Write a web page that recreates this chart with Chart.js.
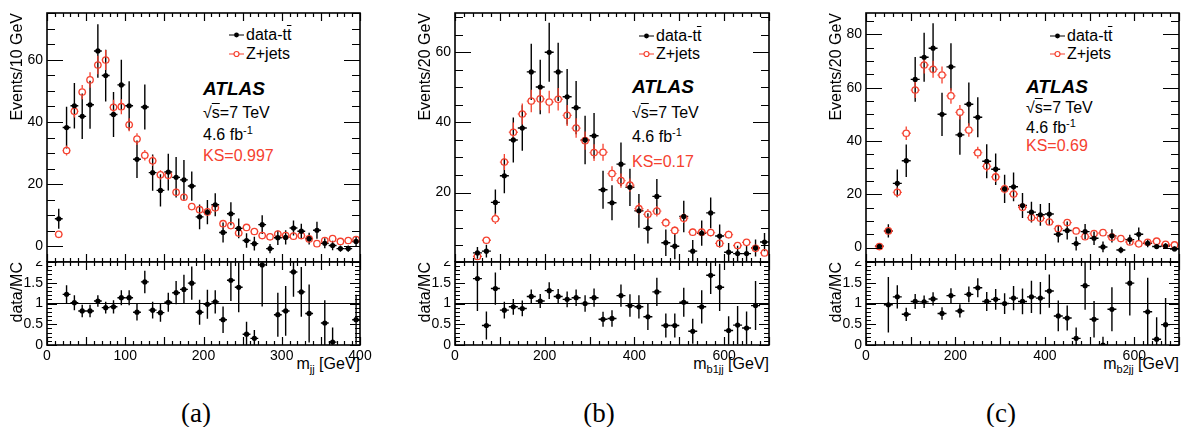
<!DOCTYPE html>
<html>
<head>
<meta charset="utf-8">
<script src="https://cdn.jsdelivr.net/npm/chart.js@4.4.0/dist/chart.umd.min.js"></script>
<style>
body { margin: 0; background: #fff; width: 1188px; height: 427px; position: relative; overflow: hidden;
       font-family: "Liberation Sans", Arial, Helvetica, sans-serif; }
canvas { position: absolute; }
.t { position: absolute; font-size: 16px; line-height: 18px; white-space: nowrap; color: #000; }
.atlas { font-size: 19px; font-weight: bold; font-style: italic; }
.ks { color: #f5412f; }
.ov { text-decoration: overline; }
.leg { display: flex; align-items: center; }
.leg svg { margin-right: 2px; }
.xt { text-align: right; }
.xt sub { font-size: 11px; vertical-align: -4px; line-height: 0; }
.cap { position: absolute; font-family: "Liberation Serif", "Times New Roman", serif; font-size: 27px;
       line-height: 30px; width: 60px; margin-left: -30px; text-align: center; }
</style>
</head>
<body>

<!-- legends and labels, panel (a) -->
<div class="t leg" style="left:229px;top:26px"><svg width="15" height="10"><line x1="0" y1="5" x2="15" y2="5" stroke="#000"/><circle cx="7.5" cy="5" r="2.4" fill="#000"/></svg>data-t<span class="ov">t</span></div>
<div class="t leg" style="left:229px;top:45px"><svg width="15" height="10"><line x1="0" y1="5" x2="5" y2="5" stroke="#f5412f"/><line x1="10" y1="5" x2="15" y2="5" stroke="#f5412f"/><circle cx="7.5" cy="5" r="2.5" fill="none" stroke="#f5412f" stroke-width="1.2"/></svg>Z+jets</div>
<div class="t atlas" style="left:203px;top:80px">ATLAS</div>
<div class="t" style="left:203px;top:104px">√<span class="ov">s</span>=7 TeV</div>
<div class="t" style="left:203px;top:126px">4.6 fb<sup style="font-size:11px;line-height:0">-1</sup></div>
<div class="t ks" style="left:203px;top:147px">KS=0.997</div>
<div class="t xt" style="right:828px;top:355px">m<sub>jj</sub> [GeV]</div>
<div class="cap" style="left:196px;top:398px">(a)</div>

<!-- panel (b) -->
<div class="t leg" style="left:639px;top:27px"><svg width="15" height="10"><line x1="0" y1="5" x2="15" y2="5" stroke="#000"/><circle cx="7.5" cy="5" r="2.4" fill="#000"/></svg>data-t<span class="ov">t</span></div>
<div class="t leg" style="left:639px;top:45px"><svg width="15" height="10"><line x1="0" y1="5" x2="5" y2="5" stroke="#f5412f"/><line x1="10" y1="5" x2="15" y2="5" stroke="#f5412f"/><circle cx="7.5" cy="5" r="2.5" fill="none" stroke="#f5412f" stroke-width="1.2"/></svg>Z+jets</div>
<div class="t atlas" style="left:632px;top:78px">ATLAS</div>
<div class="t" style="left:632px;top:104px">√<span class="ov">s</span>=7 TeV</div>
<div class="t" style="left:632px;top:128px">4.6 fb<sup style="font-size:11px;line-height:0">-1</sup></div>
<div class="t ks" style="left:632px;top:153px">KS=0.17</div>
<div class="t xt" style="right:419px;top:355px">m<sub>b1jj</sub> [GeV]</div>
<div class="cap" style="left:599px;top:398px">(b)</div>

<!-- panel (c) -->
<div class="t leg" style="left:1050px;top:27px"><svg width="15" height="10"><line x1="0" y1="5" x2="15" y2="5" stroke="#000"/><circle cx="7.5" cy="5" r="2.4" fill="#000"/></svg>data-t<span class="ov">t</span></div>
<div class="t leg" style="left:1050px;top:45px"><svg width="15" height="10"><line x1="0" y1="5" x2="5" y2="5" stroke="#f5412f"/><line x1="10" y1="5" x2="15" y2="5" stroke="#f5412f"/><circle cx="7.5" cy="5" r="2.5" fill="none" stroke="#f5412f" stroke-width="1.2"/></svg>Z+jets</div>
<div class="t atlas" style="left:1026px;top:78px">ATLAS</div>
<div class="t" style="left:1026px;top:99px">√<span class="ov">s</span>=7 TeV</div>
<div class="t" style="left:1026px;top:119px">4.6 fb<sup style="font-size:11px;line-height:0">-1</sup></div>
<div class="t ks" style="left:1026px;top:137px">KS=0.69</div>
<div class="t xt" style="right:9px;top:355px">m<sub>b2jj</sub> [GeV]</div>
<div class="cap" style="left:1001px;top:398px">(c)</div>

<script>
const RED = '#f5412f';
const FONT = '"Liberation Sans", Arial, Helvetica, sans-serif';

// (a) m_jj, 10 GeV bins
const aBins = [15, 25, 35, 45, 55, 65, 75, 85, 95, 105, 115, 125, 135, 145, 155, 165, 175, 185, 195, 205,
               215, 225, 235, 245, 255, 265, 275, 285, 295, 305, 315, 325, 335, 345, 355, 365, 375, 385, 395];
const aData = [8.9, 38.2, 45.2, 41.8, 45.5, 62.8, 54.9, 42.4, 51.9, 45.2, 28.0, 44.8, 23.7, 18.0, 23.9, 22.2, 21.4, 19.4, 9.5, 11.0,
               13.4, 4.5, 10.5, 5.8, 1.9, 0.9, 7.0, -0.7, 2.8, 2.9, 5.9, 4.9, 2.5, 5.2, 1.0, 0.3, -0.7, -0.7, 1.6];
const aErr = [3.2, 6.7, 7.3, 7.3, 7.7, 8.6, 8.3, 7.2, 8.1, 7.9, 6.0, 7.2, 5.8, 5.2, 5.9, 6.5, 6.4, 4.7, 4.0, 3.9,
              3.7, 3.2, 3.7, 3.2, 2.3, 2.2, 3.0, 1.5, 2.3, 2.3, 2.4, 2.4, 1.9, 2.7, 1.6, 1.5, 1.0, 1.0, 1.6];
const aMC = [3.9, 30.8, 43.4, 49.6, 53.5, 58.3, 59.9, 44.7, 44.9, 39.1, 34.5, 29.3, 27.5, 23.0, 22.9, 17.4, 15.8, 12.8, 11.8, 11.1,
             12.4, 7.3, 6.7, 4.3, 6.1, 4.8, 3.5, 3.1, 4.0, 3.5, 3.3, 3.5, 2.4, 0.9, 1.9, 2.5, 1.6, 1.9, 2.2];
const aMCErr = [0.8, 1.6, 2.0, 2.3, 2.5, 3.0, 3.2, 2.4, 2.4, 2.1, 1.9, 1.7, 1.6, 1.5, 1.4, 1.2, 1.1, 1.0, 1.0, 1.0,
                1.0, 0.8, 0.8, 0.6, 0.7, 0.6, 0.5, 0.5, 0.6, 0.5, 0.5, 0.5, 0.4, 0.3, 0.4, 0.4, 0.3, 0.4, 0.4];
const aRatio = [null, 1.22, 1.02, 0.82, 0.82, 1.06, 0.90, 0.92, 1.14, 1.14, 0.79, 1.52, 0.84, 0.78, 1.03, 1.26, 1.34, 1.49, 0.79, 0.98,
                1.04, 0.61, 1.56, 1.39, 0.26, 0.16, 1.93, null, 0.73, 0.82, 1.76, 1.28, 0.76, null, 0.53, 0.07, null, null, 0.61];
const aRatioErr = [0, 0.22, 0.18, 0.15, 0.15, 0.14, 0.14, 0.16, 0.18, 0.18, 0.2, 0.27, 0.2, 0.22, 0.23, 0.28, 0.35, 0.4, 0.3, 0.35,
                   0.28, 0.32, 0.5, 0.6, 0.3, 0.2, 1.0, 0, 0.53, 0.6, 0.6, 0.6, 0.7, 0, 0.55, 0.35, 0, 0, 0.6];

// (b) m_b1jj, 20 GeV bins
const bBins = [50, 70, 90, 110, 130, 150, 170, 190, 210, 230, 250, 270, 290, 310, 330, 350, 370, 390, 410, 430,
               450, 470, 490, 510, 530, 550, 570, 590, 610, 630, 650, 670, 690];
const bData = [2.8, 3.3, 17.2, 24.8, 35.0, 38.4, 54.4, 50.1, 60.0, 54.4, 47.3, 44.2, 35.0, 36.2, 20.8, 17.1, 28.1, 21.5, 14.8, 9.8,
               18.9, 5.7, 4.7, 13.2, 3.3, 8.4, 14.2, 7.6, 3.0, 2.6, 2.6, 4.2, 5.9];
const bErr = [1.7, 1.8, 3.7, 5.0, 6.4, 6.5, 8.0, 7.8, 8.4, 8.3, 7.9, 7.6, 6.9, 6.5, 5.4, 5.0, 6.2, 5.3, 4.8, 4.3,
              5.0, 3.8, 3.7, 4.5, 3.2, 3.6, 4.4, 3.3, 2.6, 2.2, 2.2, 2.4, 2.6];
const bMC = [1.8, 6.4, 12.5, 28.7, 37.2, 42.4, 46.1, 46.7, 45.8, 46.6, 42.0, 38.4, 34.8, 31.4, 31.5, 25.4, 23.4, 22.1, 15.4, 13.8,
             14.7, 11.4, 9.2, 12.7, 8.7, 8.7, 8.6, 5.5, 8.0, 4.9, 5.8, 4.1, 2.8];
const bMCErr = [0.6, 1.0, 1.5, 2.3, 2.8, 3.0, 3.2, 3.2, 3.2, 3.2, 3.0, 2.8, 2.6, 2.4, 2.4, 2.1, 2.0, 1.9, 1.6, 1.5,
                1.5, 1.3, 1.2, 1.4, 1.1, 1.1, 1.1, 0.9, 1.1, 0.8, 0.9, 0.8, 0.6];
const bRatio = [1.6, 0.47, 1.36, 0.84, 0.92, 0.88, 1.17, 1.06, 1.31, 1.17, 1.1, 1.14, 1.0, 1.14, 0.62, 0.64, 1.19, 0.95, 0.92, 0.68,
                1.28, 0.47, 0.47, 1.03, 0.33, 0.92, 1.68, 1.39, 0.35, 0.48, 0.41, 0.95, null];
const bRatioErr = [0.78, 0.34, 0.39, 0.2, 0.19, 0.19, 0.17, 0.17, 0.2, 0.18, 0.19, 0.2, 0.2, 0.22, 0.18, 0.2, 0.27, 0.27, 0.28, 0.32,
                   0.34, 0.29, 0.29, 0.35, 0.3, 0.4, 0.45, 0.57, 0.34, 0.46, 0.4, 0.59, 0];

// (c) m_b2jj, 20 GeV bins
const cBins = [30, 50, 70, 90, 110, 130, 150, 170, 190, 210, 230, 250, 270, 290, 310, 330, 350, 370, 390, 410,
               430, 450, 470, 490, 510, 530, 550, 570, 590, 610, 630, 650, 670, 690];
const cData = [0.5, 6.25, 24.1, 32.6, 63.1, 71.4, 74.8, 50.0, 67.8, 42.3, 53.8, 48.9, 32.4, 29.4, 22.0, 22.8, 15.8, 13.3, 12.3, 12.6,
               5.0, 6.4, 1.5, 6.0, 3.5, 0.25, 4.4, -0.9, 3.0, 5.0, 1.6, 0.4, 0.6, -0.5];
const cErr = [1.0, 2.5, 5.2, 6.1, 8.4, 9.2, 9.4, 8.1, 8.9, 7.5, 8.1, 7.5, 6.4, 5.9, 5.3, 5.4, 4.7, 3.9, 4.1, 4.1,
              3.1, 3.4, 2.6, 2.9, 2.5, 2.0, 2.5, 1.2, 1.8, 2.5, 1.5, 0.9, 1.0, 0.9];
const cMC = [0.4, 6.25, 20.75, 42.9, 59.1, 68.5, 66.9, 64.75, 56.9, 50.75, 44.1, 35.6, 30.5, 26.5, 22.0, 20.1, 15.1, 11.25, 11.0, 9.6,
             7.1, 9.4, 6.25, 4.1, 5.25, 5.6, 3.9, 3.4, 2.1, 1.4, 2.0, 2.4, 1.25, 1.0];
const cMCErr = [0.3, 1.3, 1.8, 2.5, 3.0, 3.2, 3.2, 3.2, 2.9, 2.7, 2.5, 2.2, 2.0, 1.9, 1.7, 1.6, 1.4, 1.2, 1.2, 1.1,
                1.0, 1.1, 0.9, 0.8, 0.8, 0.8, 0.7, 0.6, 0.5, 0.4, 0.5, 0.5, 0.4, 0.3];
const cRatio = [null, 0.97, 1.16, 0.74, 1.05, 1.04, 1.11, 0.76, 1.19, 0.82, 1.22, 1.38, 1.05, 1.1, 1.0, 1.13, 1.05, 1.16, 1.13, 1.3,
                0.7, 0.65, 0.16, 1.43, 0.62, 0.0, 0.86, null, 1.49, null, 0.8, 0.14, 0.49, null];
const cRatioErr = [0, 0.67, 0.28, 0.16, 0.18, 0.15, 0.16, 0.15, 0.18, 0.16, 0.19, 0.23, 0.23, 0.25, 0.25, 0.29, 0.31, 0.39, 0.39, 0.4,
                   0.37, 0.3, 0.26, 0.58, 0.44, 0.2, 0.53, 0, 0.78, 0, 0.82, 0.53, 0.64, 0];

// tick labels
const aXTicks = [0, 100, 200, 300, 400];
const bXTicks = [0, 200, 400, 600];
const cXTicks = [0, 200, 400, 600];
const aYTicks = [0, 20, 40, 60];
const bYTicks = [20, 40, 60];
const cYTicks = [0, 20, 40, 60, 80];
const ratioTicks = [0, 0.5, 1, 1.5, 2];

function pts(xs, ys, es) {
    return xs.map((x, i) => ({ x: x, y: ys[i], e: es[i] }));
}

function ticksAlong(min, max, step) {
    const out = [];
    for (let i = Math.ceil(min / step - 1e-6); i * step <= max + 1e-6; i++) out.push(i * step);
    return out;
}

function isMult(v, step) {
    const r = v / step;
    return Math.abs(r - Math.round(r)) < 1e-6;
}

// ROOT-like look: error bars, inside ticks on all sides, frame, line at 1
const rootStyle = {
    id: 'rootStyle',
    beforeDatasetsDraw(chart, args, o) {
        const { ctx, chartArea: a, scales: { x, y } } = chart;
        ctx.save();
        ctx.beginPath();
        ctx.rect(a.left, a.top, a.right - a.left, a.bottom - a.top);
        ctx.clip();
        if (o.unity) {
            const py = y.getPixelForValue(1);
            ctx.strokeStyle = '#000';
            ctx.lineWidth = 1;
            ctx.beginPath();
            ctx.moveTo(a.left, py);
            ctx.lineTo(a.right, py);
            ctx.stroke();
        }
        chart.data.datasets.forEach(ds => {
            ctx.strokeStyle = ds.borderColor;
            ctx.lineWidth = ds.barWidth;
            const g = ds.gap;
            ds.data.forEach(d => {
                if (d.y === null) return;
                const px = x.getPixelForValue(d.x), py = y.getPixelForValue(d.y);
                const xl = x.getPixelForValue(d.x - ds.halfBin), xr = x.getPixelForValue(d.x + ds.halfBin);
                const yt = y.getPixelForValue(d.y + d.e), yb = y.getPixelForValue(d.y - d.e);
                ctx.beginPath();
                ctx.moveTo(xl, py); ctx.lineTo(px - g, py);
                ctx.moveTo(px + g, py); ctx.lineTo(xr, py);
                if (yt < py - g) { ctx.moveTo(px, yt); ctx.lineTo(px, py - g); }
                if (yb > py + g) { ctx.moveTo(px, py + g); ctx.lineTo(px, yb); }
                ctx.stroke();
            });
        });
        ctx.restore();
    },
    afterDatasetsDraw(chart, args, o) {
        const { ctx, chartArea: a, scales: { x, y } } = chart;
        ctx.save();
        ctx.strokeStyle = '#000';
        ctx.lineWidth = 1.2;
        ctx.beginPath();
        ticksAlong(x.min, x.max, o.xMinor).forEach(v => {
            const p = Math.round(x.getPixelForValue(v)) + 0.5;
            const len = isMult(v, o.xMajor) ? o.xMajLen : o.xMinLen;
            ctx.moveTo(p, a.bottom); ctx.lineTo(p, a.bottom - len);
            ctx.moveTo(p, a.top); ctx.lineTo(p, a.top + len);
        });
        ticksAlong(y.min, y.max, o.yMinor).forEach(v => {
            const p = Math.round(y.getPixelForValue(v)) + 0.5;
            const len = isMult(v, o.yMajor) ? o.yMajLen : o.yMinLen;
            ctx.moveTo(a.left, p); ctx.lineTo(a.left + len, p);
            ctx.moveTo(a.right, p); ctx.lineTo(a.right - len, p);
        });
        ctx.stroke();
        ctx.lineWidth = 1.6;
        ctx.strokeRect(a.left, a.top, a.right - a.left, a.bottom - a.top);
        ctx.restore();
    }
};

function dataSet(bins, vals, errs, halfBin) {
    return {
        data: pts(bins, vals, errs),
        pointRadius: 2.6,
        pointBackgroundColor: '#000',
        pointBorderWidth: 0,
        borderColor: '#000',
        halfBin: halfBin,
        gap: 0,
        barWidth: 1.4
    };
}

function mcSet(bins, vals, errs, halfBin) {
    return {
        data: pts(bins, vals, errs),
        pointRadius: 3.2,
        pointBackgroundColor: 'rgba(255,255,255,0)',
        pointBorderColor: RED,
        pointBorderWidth: 1.3,
        borderColor: RED,
        halfBin: halfBin,
        gap: 3.6,
        barWidth: 1.3
    };
}

// no extra space for labels that hang over the plot edges
function noOverhang(s) {
    s.paddingTop = 0;
    s.paddingBottom = 0;
    s.paddingLeft = 0;
    s.paddingRight = 0;
}

function makeChart(p, main) {
    const chartW = p.right - p.left;
    const canvas = document.createElement('canvas');
    canvas.width = 47 + chartW + 22;
    canvas.height = main ? 257 : 106;
    canvas.style.left = (p.left - 47) + 'px';
    canvas.style.top = (main ? 5 : 261) + 'px';
    document.body.appendChild(canvas);

    const datasets = main
        ? [dataSet(p.bins, p.data, p.err, p.halfBin), mcSet(p.bins, p.mc, p.mcErr, p.halfBin)]
        : [dataSet(p.bins, p.ratio, p.ratioErr, p.halfBin)];

    const style = main
        ? { xMinor: p.xMinor, xMajor: p.xMajor, xMinLen: 4, xMajLen: 8, yMinor: 5, yMajor: 20, yMinLen: 8, yMajLen: 16, unity: false }
        : { xMinor: p.xMinor, xMajor: p.xMajor, xMinLen: 4, xMajLen: 8, yMinor: 0.1, yMajor: 0.5, yMinLen: 5, yMajLen: 10, unity: true };

    new Chart(canvas, {
        type: 'scatter',
        data: { datasets: datasets },
        options: {
            responsive: false,
            animation: false,
            layout: { autoPadding: false, padding: { top: main ? 8 : 1, right: 22, bottom: 0, left: 0 } },
            plugins: {
                legend: { display: false },
                tooltip: { enabled: false },
                rootStyle: style
            },
            scales: {
                x: {
                    type: 'linear',
                    min: 0,
                    max: p.xMax,
                    display: !main,
                    grid: { display: false, drawTicks: false },
                    border: { display: false },
                    ticks: {
                        autoSkip: false, maxRotation: 0, padding: 3, color: '#000',
                        font: { family: FONT, size: 14 },
                        callback: v => String(v)
                    },
                    afterBuildTicks: s => { s.ticks = p.xTicks.map(v => ({ value: v })); },
                    afterFit: s => { s.height = main ? 0 : 22; noOverhang(s); }
                },
                y: {
                    type: 'linear',
                    min: main ? p.yMin : 0,
                    max: main ? p.yMax : 2,
                    grid: { display: false, drawTicks: false },
                    border: { display: false },
                    ticks: {
                        padding: 4, color: '#000',
                        font: { family: FONT, size: 14 },
                        callback: v => String(v)
                    },
                    title: {
                        display: true,
                        text: main ? p.yTitle : 'data/MC',
                        align: 'end',
                        color: '#000',
                        font: { family: FONT, size: 16 },
                        padding: { top: 8, bottom: 0 }
                    },
                    afterBuildTicks: s => { s.ticks = (main ? p.yTicks : ratioTicks).map(v => ({ value: v })); },
                    afterFit: s => { s.width = 47; noOverhang(s); }
                }
            }
        },
        plugins: [rootStyle]
    });
}

const panels = [
    { left: 47, right: 360, xMax: 400, xTicks: aXTicks, xMinor: 10, xMajor: 50, halfBin: 5,
      yMin: -5, yMax: 75, yTicks: aYTicks, yTitle: 'Events/10 GeV',
      bins: aBins, data: aData, err: aErr, mc: aMC, mcErr: aMCErr, ratio: aRatio, ratioErr: aRatioErr },
    { left: 455, right: 769, xMax: 700, xTicks: bXTicks, xMinor: 20, xMajor: 100, halfBin: 10,
      yMin: 0.2, yMax: 71.2, yTicks: bYTicks, yTitle: 'Events/20 GeV',
      bins: bBins, data: bData, err: bErr, mc: bMC, mcErr: bMCErr, ratio: bRatio, ratioErr: bRatioErr },
    { left: 866, right: 1179, xMax: 700, xTicks: cXTicks, xMinor: 20, xMajor: 100, halfBin: 10,
      yMin: -5.4, yMax: 88, yTicks: cYTicks, yTitle: 'Events/20 GeV',
      bins: cBins, data: cData, err: cErr, mc: cMC, mcErr: cMCErr, ratio: cRatio, ratioErr: cRatioErr }
];

document.addEventListener('DOMContentLoaded', function () {
    panels.forEach(p => {
        makeChart(p, false);
        makeChart(p, true);
    });
});
</script>
</body>
</html>
